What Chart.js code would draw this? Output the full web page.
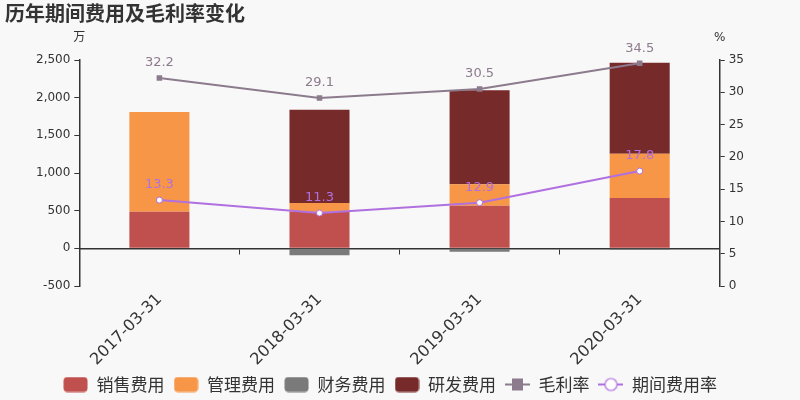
<!DOCTYPE html>
<html>
<head>
<meta charset="utf-8">
<script src="https://cdn.jsdelivr.net/npm/chart.js@4/dist/chart.umd.min.js"></script>
<style>
html,body{margin:0;padding:0;background:#f8f8f8;}
#wrap{position:relative;width:800px;height:400px;}
</style>
</head>
<body>
<div id="wrap"><canvas id="c" width="800" height="400"></canvas></div>
<script>
const title = '历年期间费用及毛利率变化';
const categories = ['2017-03-31', '2018-03-31', '2019-03-31', '2020-03-31'];
const salesExp = [486, 485, 566, 668];
const adminExp = [1323, 117, 286, 589];
const financeExp = [-5, -92, -45, -18];
const rdExp = [0, 1239, 1247, 1207];
const grossMargin = [32.2, 29.1, 30.5, 34.5];
const periodExpRate = [13.3, 11.3, 12.9, 17.8];
const leftTicks = [-500, 0, 500, 1000, 1500, 2000, 2500];
const rightTicks = [0, 5, 10, 15, 20, 25, 30, 35];
const leftUnit = '万';
const rightUnit = '%';

const FONT = '"DejaVu Sans", "Noto Sans CJK SC", sans-serif';
const TXT = '#333333';
const GM_COLOR = '#8c7b8c';
const PR_COLOR = '#b070e0';

function icon(kind, color) {
  const cv = document.createElement('canvas');
  cv.width = 25; cv.height = 16;
  const g = cv.getContext('2d');
  if (kind === 'box') {
    g.fillStyle = color;
    g.beginPath();
    g.roundRect(0.5, 0.5, 24, 15, 4);
    g.fill();
  } else {
    g.strokeStyle = color; g.lineWidth = 2;
    g.beginPath(); g.moveTo(0, 8); g.lineTo(25, 8); g.stroke();
    if (kind === 'square') {
      g.fillStyle = color; g.fillRect(7, 2, 11, 12);
    } else {
      g.fillStyle = '#ffffff'; g.lineWidth = 1.2;
      g.beginPath(); g.arc(12.5, 8, 6, 0, Math.PI * 2); g.fill(); g.stroke();
    }
  }
  return cv;
}

const labelPlugin = {
  id: 'valueLabels',
  afterDatasetsDraw(chart) {
    const ctx = chart.ctx;
    ctx.save();
    ctx.font = '13px ' + FONT;
    ctx.textAlign = 'center';
    ctx.textBaseline = 'middle';
    chart.data.datasets.forEach((ds, i) => {
      if (ds.type !== 'line') return;
      const meta = chart.getDatasetMeta(i);
      ctx.fillStyle = ds.borderColor;
      meta.data.forEach((pt, j) => {
        ctx.fillText(ds.data[j].toFixed(1), pt.x, pt.y - 15);
      });
    });
    // unit labels
    ctx.fillStyle = TXT;
    ctx.font = '12px ' + FONT;
    const yl = chart.scales.y, yr = chart.scales.y1;
    ctx.fillText(leftUnit, yl.right, chart.chartArea.top - 22);
    ctx.fillText(rightUnit, yr.left, chart.chartArea.top - 22);
    ctx.restore();
  }
};

const titlePlugin = {
  id: 'myTitle',
  beforeDraw(chart) {
    const ctx = chart.ctx;
    ctx.save();
    ctx.fillStyle = '#f8f8f8';
    ctx.fillRect(0, 0, chart.width, chart.height);
    ctx.fillStyle = TXT;
    ctx.font = 'bold 20px "Noto Sans CJK SC", sans-serif';
    ctx.textAlign = 'left';
    ctx.textBaseline = 'middle';
    ctx.fillText(title, 5, 13);
    ctx.restore();
  }
};

const barCommon = {type: 'bar', stack: 's', barPercentage: 0.375, categoryPercentage: 1, yAxisID: 'y', order: 2};

new Chart(document.getElementById('c'), {
  data: {
    labels: categories,
    datasets: [
      Object.assign({label: '销售费用', data: salesExp, backgroundColor: '#c0504d', legendIcon: icon('box', '#c0504d')}, barCommon),
      Object.assign({label: '管理费用', data: adminExp, backgroundColor: '#f79646', legendIcon: icon('box', '#f79646')}, barCommon),
      Object.assign({label: '财务费用', data: financeExp, backgroundColor: '#7a7a7a', legendIcon: icon('box', '#7a7a7a')}, barCommon),
      Object.assign({label: '研发费用', data: rdExp, backgroundColor: '#772a2a', legendIcon: icon('box', '#772a2a')}, barCommon),
      {type: 'line', label: '毛利率', data: grossMargin, yAxisID: 'y1', borderColor: GM_COLOR, backgroundColor: GM_COLOR,
       borderWidth: 2, pointStyle: 'rect', pointRadius: 2.5, pointBackgroundColor: GM_COLOR, pointBorderColor: GM_COLOR,
       tension: 0, order: 1, legendIcon: icon('square', GM_COLOR)},
      {type: 'line', label: '期间费用率', data: periodExpRate, yAxisID: 'y1', borderColor: PR_COLOR, backgroundColor: PR_COLOR,
       borderWidth: 2, pointStyle: 'circle', pointRadius: 3, pointBackgroundColor: '#ffffff', pointBorderColor: PR_COLOR, pointBorderWidth: 1,
       tension: 0, order: 0, legendIcon: icon('circle', PR_COLOR)}
    ]
  },
  options: {
    responsive: false,
    animation: false,
    layout: {padding: {top: 60, left: 32, right: 52, bottom: -3}},
    plugins: {
      title: {display: false},
      tooltip: {enabled: false},
      legend: {
        position: 'bottom',
        labels: {
          font: {size: 17, family: '"Noto Sans CJK SC", sans-serif'},
          color: TXT,
          usePointStyle: true,
          pointStyleWidth: 25,
          boxHeight: 16,
          padding: 9,
          generateLabels(chart) {
            return chart.data.datasets.map((ds, i) => ({
              text: ds.label, pointStyle: ds.legendIcon, fontColor: TXT,
              hidden: false, datasetIndex: i, lineWidth: 0, strokeStyle: 'transparent', fillStyle: 'transparent'
            }));
          }
        }
      }
    },
    scales: {
      x: {
        position: 'bottom',
        offset: true,
        grid: {display: false},
        border: {display: false},
        afterFit(s) { s.height = 81; },
        ticks: {minRotation: 45, maxRotation: 45, color: TXT, font: {size: 16, family: FONT}, padding: -4}
      },
      x2: {
        type: 'category',
        labels: categories,
        position: {y: 0},
        offset: true,
        grid: {display: true, drawOnChartArea: false, drawTicks: true, tickLength: 5, color: TXT, offset: true},
        border: {display: true, color: TXT, width: 1.5},
        ticks: {display: false}
      },
      y: {
        position: 'left',
        min: -500, max: 2500,
        afterBuildTicks(s) { s.ticks = leftTicks.map(v => ({value: v})); },
        grid: {display: true, drawOnChartArea: false, tickLength: 5, color: TXT},
        border: {display: true, color: TXT, width: 1.5},
        ticks: {color: TXT, font: {size: 12, family: FONT}, padding: 4,
                callback: v => v.toLocaleString('en-US')}
      },
      y1: {
        position: 'right',
        min: 0, max: 35,
        afterBuildTicks(s) { s.ticks = rightTicks.map(v => ({value: v})); },
        grid: {display: true, drawOnChartArea: false, tickLength: 5, color: TXT},
        border: {display: true, color: TXT, width: 1.5},
        ticks: {color: TXT, font: {size: 12, family: FONT}, padding: 4}
      }
    }
  },
  plugins: [titlePlugin, labelPlugin]
});
</script>
</body>
</html>
